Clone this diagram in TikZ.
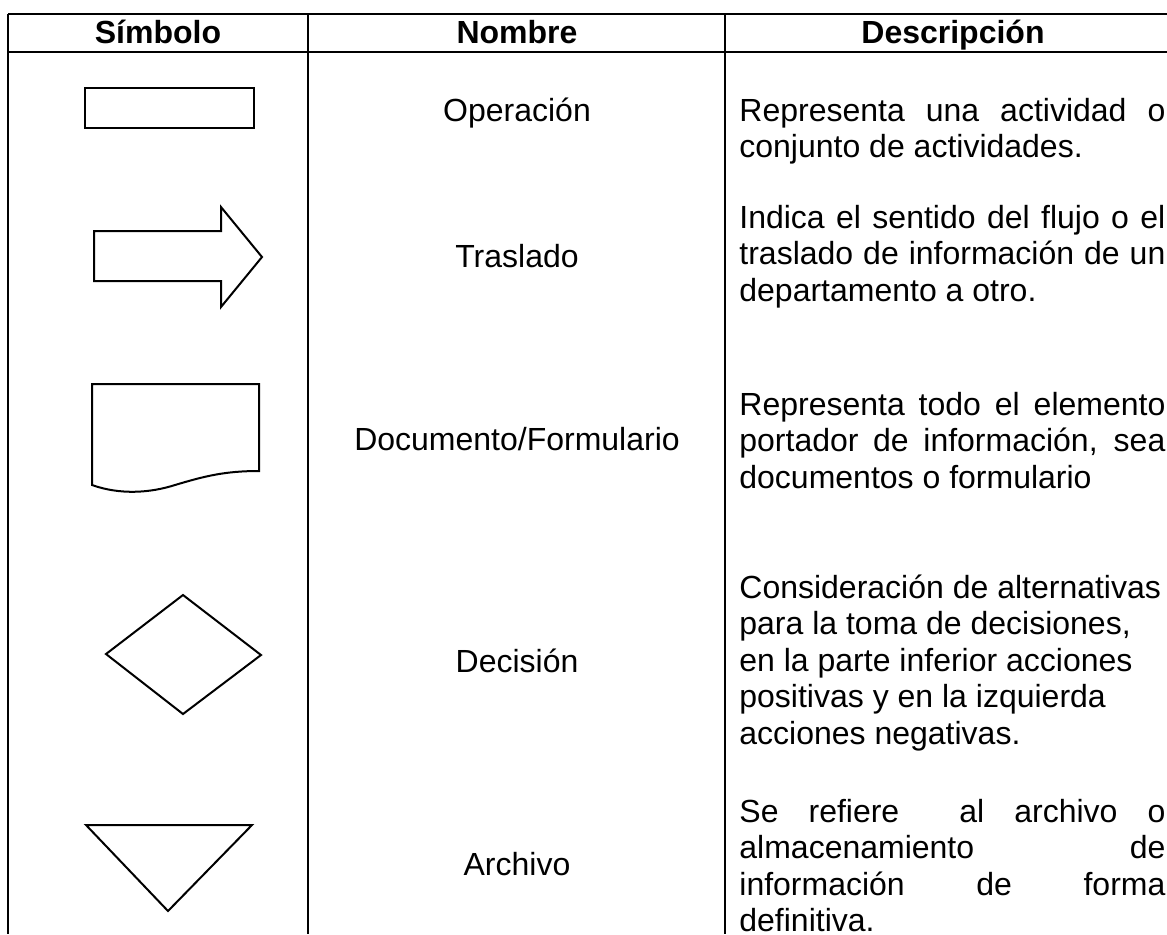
\documentclass[tikz,border=0pt]{standalone}
\usepackage{fontspec}
\setmainfont{Liberation Sans}

\begin{document}
\begin{tikzpicture}[x=0.5pt,y=0.5pt,yscale=-1,xscale=1,
		rule/.style={line width=1pt},
		symb/.style={line width=1pt,line join=miter},
		hdr/.style={font=\fontsize{16pt}{18.25pt}\selectfont\bfseries,inner sep=0pt,anchor=base},
		nomb/.style={font=\fontsize{16pt}{18.25pt}\selectfont,inner sep=0pt,anchor=base},
		desc/.style={font=\fontsize{16pt}{18.25pt}\selectfont,inner sep=0pt,anchor=base west,text width=213pt,align=justify}]
		%set diagram left start at 0, and has height of 934
		\useasboundingbox (0,0) rectangle (1167,934);
		
		\draw [rule] (8,14) -- (1167,14) ;
		\draw [rule] (8,52) -- (1167,52) ;
		\draw [rule] (8,14) -- (8,934) ;
		\draw [rule] (308,14) -- (308,934) ;
		\draw [rule] (725,14) -- (725,934) ;
		
		\draw (158,43) node [hdr] (hdrSim) {Símbolo};
		\draw (517,43) node [hdr] (hdrNom) {Nombre};
		\draw (953,43) node [hdr] (hdrDesc) {Descripción};
		
		
		\draw [symb] (85,88) rectangle (254,128) ;
		\draw [symb] (94,231) -- (221,231) -- (221,207) -- (262,257) -- (221,307) -- (221,281) -- (94,281) -- cycle ;
		\draw [symb] (92,384) -- (259,384) -- (259,471) .. controls (225,471) and (205,476) .. (175,485) .. controls (150,493) and (120,495) .. (92,485) -- cycle ;
		\draw [symb] (183,595) -- (261,655) -- (183,714) -- (106,654) -- cycle ;
		\draw [symb] (86,825) -- (252,825) -- (168,911) -- cycle ;
		
		
		\draw (517,121) node [nomb] (nomOp) {Operación};
		\draw (517,267) node [nomb] (nomTras) {Traslado};
		\draw (517,450) node [nomb] (nomDoc) {Documento/Formulario};
		\draw (517,672) node [nomb] (nomDec) {Decisión};
		\draw (517,875) node [nomb] (nomArch) {Archivo};
		
		\draw (739,121) node [desc] (descOp) {Representa una actividad o\linebreak conjunto de actividades.};
		\draw (739,228) node [desc] (descTras) {Indica el sentido del flujo o el\linebreak traslado de información de un\linebreak departamento a otro.};
		\draw (739,415) node [desc] (descDoc) {Representa todo el elemento\linebreak portador de información, sea\linebreak documentos o formulario};
		\draw (739,598) node [desc] (descDec) {Consideración de alternativas\newline para la toma de decisiones,\newline en la parte inferior acciones\newline positivas y en la izquierda\newline acciones negativas.};
		\draw (739,822) node [desc] (descArch) {Se refiere\ \ al archivo o\linebreak almacenamiento de\linebreak información de forma\linebreak definitiva.};
		
		
		\end{tikzpicture}
\end{document}
